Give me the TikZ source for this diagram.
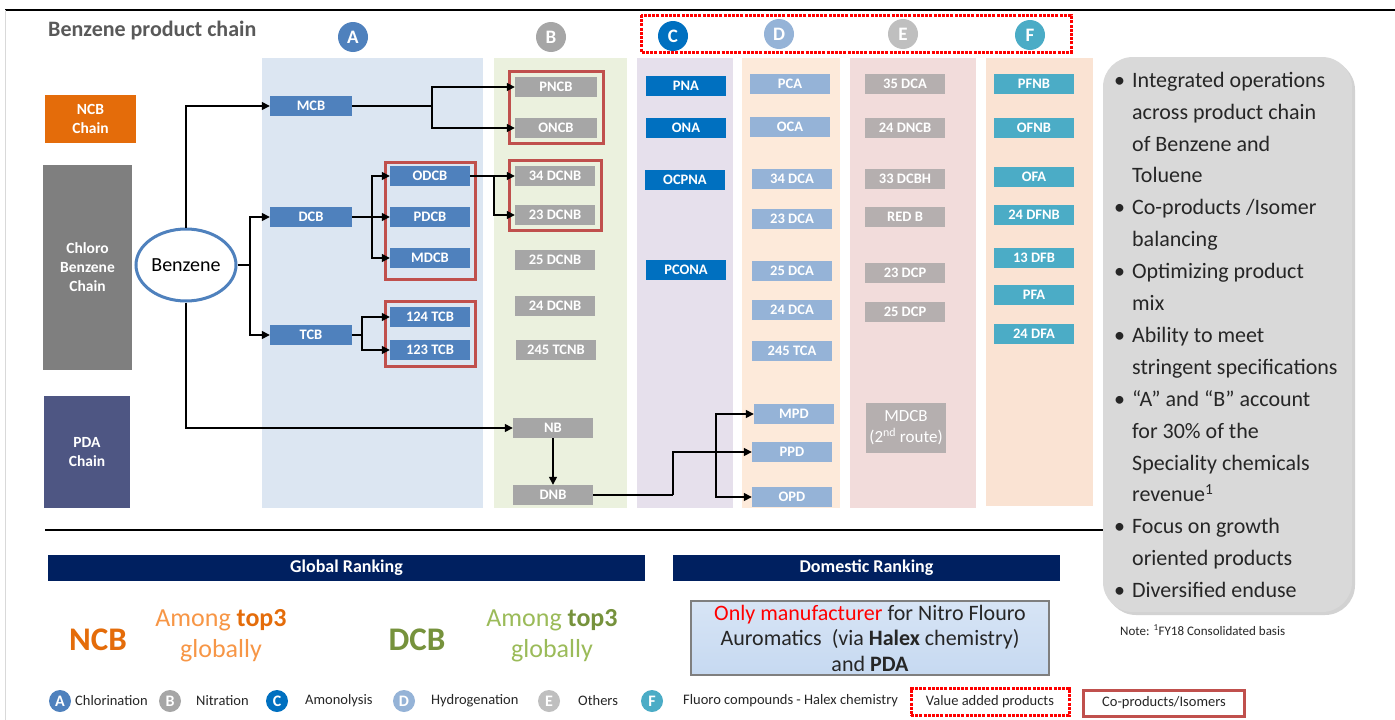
\documentclass[tikz,border=0pt]{standalone}
\usepackage{fontspec}
\setmainfont{Carlito}
\usetikzlibrary{arrows.meta,positioning,shapes.geometric,shadows}

\definecolor{chlorblue}{HTML}{4F81BD}
\definecolor{nitrogray}{HTML}{A6A6A6}
\definecolor{aminoblue}{HTML}{0070C0}
\definecolor{hydroblue}{HTML}{95B3D7}
\definecolor{othergray}{HTML}{B5AFAF}
\definecolor{othercirc}{HTML}{BFBFBF}
\definecolor{fluoroteal}{HTML}{4BACC6}
\definecolor{bgA}{HTML}{DCE6F2}
\definecolor{bgB}{HTML}{EBF1DE}
\definecolor{bgC}{HTML}{E6E0EC}
\definecolor{bgD}{HTML}{FDEADA}
\definecolor{bgE}{HTML}{F2DCDB}
\definecolor{bgF}{HTML}{FAE3D3}
\definecolor{ncborange}{HTML}{E46C0A}
\definecolor{lightorange}{HTML}{F79646}
\definecolor{dcbgreen}{HTML}{76923C}
\definecolor{lightgreen}{HTML}{9BBB59}
\definecolor{chaingray}{HTML}{7F7F7F}
\definecolor{pdaslate}{HTML}{4E5683}
\definecolor{navy}{HTML}{002060}
\definecolor{isored}{HTML}{C0504D}
\definecolor{notegray}{HTML}{D9D9D9}
\definecolor{titlegray}{HTML}{595959}
\definecolor{darktext}{HTML}{262626}
\definecolor{domblue}{HTML}{C6D9F1}

\begin{document}
\begin{tikzpicture}[x=1pt,y=-1pt]
\tikzset{
  prodbox/.style={rectangle,minimum width=80pt,minimum height=20pt,inner sep=0pt,text=white,font=\fontsize{14.5}{16}\selectfont\bfseries},
  abox/.style={prodbox,fill=chlorblue},
  bbox/.style={prodbox,fill=nitrogray},
  cbox/.style={prodbox,fill=aminoblue},
  dbox/.style={prodbox,fill=hydroblue},
  ebox/.style={prodbox,fill=othergray},
  fbox/.style={prodbox,fill=fluoroteal},
  chainbox/.style={rectangle,inner sep=0pt,text=white,align=center,font=\fontsize{15.5}{19}\selectfont\bfseries},
  lettercircle/.style={circle,inner sep=0pt,minimum size=30pt,text=white,font=\fontsize{19}{20}\selectfont\bfseries},
  legcircle/.style={circle,inner sep=0pt,minimum size=22pt,text=white,font=\fontsize{16}{17}\selectfont\bfseries},
  legtext/.style={anchor=west,inner sep=0pt,text=darktext,font=\fontsize{14.5}{16}\selectfont},
  banner/.style={rectangle,fill=navy,text=white,inner sep=0pt,font=\fontsize{18}{20}\selectfont\bfseries},
  link/.style={draw=black,line width=1.4pt},
  arr/.style={link,-{Triangle[length=8pt,width=8pt]}},
  isobox/.style={draw=isored,line width=3pt},
  valuebox/.style={draw=red,line width=3pt,dash pattern=on 3pt off 1.2pt}
}
\useasboundingbox (0,0) rectangle (1395,720);
\fill[white] (0,0) rectangle (1395,720);
% frame
\draw[line width=2.5pt] (5,10) -- (1395,10);
\draw[notegray,line width=0.8pt] (5,10) -- (5,720);
\node[anchor=west,inner sep=0pt,text=titlegray,font=\fontsize{22}{24}\selectfont\bfseries] (n_title) at (48,31) {Benzene product chain};

% columns
\fill[bgA] (262,58) rectangle (483,508);
\fill[bgB] (494,58) rectangle (627,508);
\fill[bgC] (637,58) rectangle (733,508);
\fill[bgD] (742,58) rectangle (840,508);
\fill[bgE] (850,58) rectangle (976,508);
\fill[bgF] (986,58) rectangle (1093,506);

% column headers
\node[lettercircle,fill=chlorblue] (n_hA) at (353,37) {A};
\node[lettercircle,fill=nitrogray] (n_hB) at (551,37) {B};
\node[lettercircle,fill=aminoblue] (n_hC) at (673,36) {C};
\node[lettercircle,fill=hydroblue] (n_hD) at (779,34) {D};
\node[lettercircle,fill=othercirc] (n_hE) at (903,34) {E};
\node[lettercircle,fill=fluoroteal] (n_hF) at (1030,35) {F};
\draw[valuebox] (641,15) rectangle (1071,52);

% chains
\node[chainbox,fill=ncborange,minimum width=91pt,minimum height=48pt] (n_NCB) at (90.5,119) {NCB\\Chain};
\node[chainbox,fill=chaingray,minimum width=89pt,minimum height=205pt] (n_CBC) at (87.5,267.5) {Chloro\\Benzene\\Chain};
\node[chainbox,fill=pdaslate,minimum width=86pt,minimum height=112pt] (n_PDA) at (87,452) {PDA\\Chain};
\node[ellipse,draw=chlorblue,line width=3pt,fill=white,minimum width=100pt,minimum height=72pt,inner sep=0pt,font=\fontsize{20}{22}\selectfont] (n_Benz) at (186,265) {Benzene};

% A: chlorination
\node[abox,minimum width=82pt] (n_MCB) at (311,106) {MCB};
\node[abox,minimum width=82pt] (n_DCB) at (311,217) {DCB};
\node[abox,minimum width=82pt] (n_TCB) at (311,335) {TCB};
\node[abox] (n_ODCB) at (430,176) {ODCB};
\node[abox] (n_PDCB) at (430,217) {PDCB};
\node[abox] (n_MDCB) at (430,258) {MDCB};
\node[abox] (n_TCB124) at (430,317) {124 TCB};
\node[abox] (n_TCB123) at (430,350) {123 TCB};
\draw[isobox] (385,162) rectangle (475,279);
\draw[isobox] (385,301) rectangle (475,366);

% B: nitration
\node[bbox,minimum width=82pt] (n_PNCB) at (556,87) {PNCB};
\node[bbox,minimum width=82pt] (n_ONCB) at (556,128) {ONCB};
\node[bbox] (n_DCNB34) at (555,176) {34 DCNB};
\node[bbox] (n_DCNB23) at (555,215) {23 DCNB};
\node[bbox] (n_DCNB25) at (555,260) {25 DCNB};
\node[bbox] (n_DCNB24) at (555,306) {24 DCNB};
\node[bbox] (n_TCNB245) at (556,350) {245 TCNB};
\node[bbox] (n_NB) at (553,428) {NB};
\node[bbox] (n_DNB) at (553,495) {DNB};
\draw[isobox] (509,71) rectangle (603,143);
\draw[isobox] (509,160) rectangle (601,230);

% C: amonolysis
\node[cbox] (n_PNA) at (686,86) {PNA};
\node[cbox] (n_ONA) at (686,128) {ONA};
\node[cbox] (n_OCPNA) at (685,180) {OCPNA};
\node[cbox] (n_PCONA) at (686,270) {PCONA};

% D: hydrogenation
\node[dbox] (n_PCA) at (790,84) {PCA};
\node[dbox] (n_OCA) at (790,127) {OCA};
\node[dbox] (n_DCA34) at (792,179) {34 DCA};
\node[dbox] (n_DCA23) at (792,219) {23 DCA};
\node[dbox] (n_DCA25) at (792,271) {25 DCA};
\node[dbox] (n_DCA24) at (792,310) {24 DCA};
\node[dbox] (n_TCA245) at (792,351) {245 TCA};
\node[dbox] (n_MPD) at (794,414) {MPD};
\node[dbox] (n_PPD) at (792,452) {PPD};
\node[dbox] (n_OPD) at (792,497) {OPD};

% E: others
\node[ebox] (n_DCA35) at (905,84) {35 DCA};
\node[ebox] (n_DNCB24) at (905,128) {24 DNCB};
\node[ebox] (n_DCBH33) at (905,179) {33 DCBH};
\node[ebox] (n_REDB) at (905,217) {RED B};
\node[ebox] (n_DCP23) at (905,273) {23 DCP};
\node[ebox] (n_DCP25) at (905,312) {25 DCP};
\node[ebox,minimum height=50pt,align=center,font=\fontsize{17}{21}\selectfont] (n_MDCB2) at (906,428) {MDCB\\(2\textsuperscript{nd} route)};

% F: fluoro
\node[fbox] (n_PFNB) at (1034,84) {PFNB};
\node[fbox] (n_OFNB) at (1034,128) {OFNB};
\node[fbox] (n_OFA) at (1034,177) {OFA};
\node[fbox] (n_DFNB24) at (1034,215) {24 DFNB};
\node[fbox] (n_DFB13) at (1034,258) {13 DFB};
\node[fbox] (n_PFA) at (1034,295) {PFA};
\node[fbox] (n_DFA24) at (1034,334) {24 DFA};

% connectors
\coordinate (j_benz) at (250,265);
\coordinate (j_mcb) at (432,106);
\coordinate (j_dcb) at (372,217);
\coordinate (j_tcb) at (362,335);
\coordinate (j_odcb) at (494,176);
\coordinate (j_dnb) at (673,495);
\coordinate (j_pd) at (716,452);
\draw[arr] (n_Benz.north) |- (n_MCB);
\draw[link] (n_Benz.east) -- (j_benz);
\draw[arr] (j_benz) |- (n_DCB);
\draw[arr] (j_benz) |- (n_TCB);
\draw[arr] (n_Benz.south) |- (n_NB);
\draw[link] (n_MCB) -- (j_mcb);
\draw[arr] (j_mcb) |- (n_PNCB);
\draw[arr] (j_mcb) |- (n_ONCB);
\draw[link] (n_DCB) -- (j_dcb);
\draw[arr] (j_dcb) |- (n_ODCB);
\draw[arr] (j_dcb) -- (n_PDCB);
\draw[arr] (j_dcb) |- (n_MDCB);
\draw[link] (n_TCB) -- (j_tcb);
\draw[arr] (j_tcb) |- (n_TCB124);
\draw[arr] (j_tcb) |- (n_TCB123);
\draw[arr] (n_ODCB) -- (n_DCNB34);
\draw[arr] (j_odcb) |- (n_DCNB23);
\draw[arr] (n_NB) -- (n_DNB);
\draw[link] (n_DNB) -- (j_dnb);
\draw[arr] (j_dnb) |- (n_PPD);
\draw[arr] (j_pd) |- (n_MPD);
\draw[arr] (j_pd) |- (n_OPD);

% notes
\draw[line width=2pt] (45,530) -- (1105,530);
\node[rectangle,rounded corners=30pt,fill=notegray,minimum width=249pt,minimum height=555pt,drop shadow={opacity=0.35,shadow xshift=3pt,shadow yshift=-3pt}] (n_notes) at (1227.5,334.5) {};
\node[anchor=north west,inner sep=0pt,text=darktext,font=\fontsize{22}{31.9}\selectfont] (n_notetext) at (1114,64.7) {%
\begin{tabular}{@{}l@{\hspace{7pt}}l@{}}
\textbullet & Integrated operations\\
 & across product chain\\
 & of Benzene and\\
 & Toluene\\
\textbullet & Co-products /Isomer\\
 & balancing\\
\textbullet & Optimizing product\\
 & mix\\
\textbullet & Ability to meet\\
 & stringent specifications\\
\textbullet & “A” and “B” account\\
 & for 30\% of the\\
 & Speciality chemicals\\
 & revenue\textsuperscript{1}\\
\textbullet & Focus on growth\\
 & oriented products\\
\textbullet & Diversified enduse
\end{tabular}};
\node[anchor=west,inner sep=0pt,text=darktext,font=\fontsize{13}{15}\selectfont] (n_note) at (1120,630) {Note: \textsuperscript{1}FY18 Consolidated basis};

% rankings
\node[banner,minimum width=597pt,minimum height=26pt] (n_global) at (346.5,568) {Global Ranking};
\node[banner,minimum width=387pt,minimum height=26pt] (n_domestic) at (866.5,568) {Domestic Ranking};
\node[text=ncborange,font=\fontsize{33}{35}\selectfont\bfseries] (n_rNCB) at (98,640) {NCB};
\node[align=center,text=lightorange,font=\fontsize{26}{31}\selectfont] (n_rNCBt) at (221,636) {Among \textbf{\color{ncborange}top3}\\globally};
\node[text=dcbgreen,font=\fontsize{33}{35}\selectfont\bfseries] (n_rDCB) at (417,640) {DCB};
\node[align=center,text=lightgreen,font=\fontsize{26}{31}\selectfont] (n_rDCBt) at (552,636) {Among \textbf{\color{dcbgreen}top3}\\globally};
\node[rectangle,draw=chaingray,line width=2.5pt,top color=domblue!70,bottom color=domblue,minimum width=358pt,minimum height=74pt,align=center,inner sep=0pt,text=darktext,font=\fontsize{22}{25.5}\selectfont] (n_only) at (870,638) {\textcolor{red}{Only manufacturer} for Nitro Flouro\\Auromatics\ \ (via \textbf{Halex} chemistry)\\and \textbf{PDA}};

% legend
\node[legcircle,fill=chlorblue] (n_lA) at (60,701) {A};
\node[legtext] (n_lAt) at (75,701) {Chlorination};
\node[legcircle,fill=nitrogray] (n_lB) at (170,701) {B};
\node[legtext] (n_lBt) at (196,701) {Nitration};
\node[legcircle,fill=aminoblue] (n_lC) at (277,701) {C};
\node[legtext] (n_lCt) at (305,701) {Amonolysis};
\node[legcircle,fill=hydroblue] (n_lD) at (404,701) {D};
\node[legtext] (n_lDt) at (431,701) {Hydrogenation};
\node[legcircle,fill=othercirc] (n_lE) at (549,701) {E};
\node[legtext] (n_lEt) at (578,701) {Others};
\node[legcircle,fill=fluoroteal] (n_lF) at (652,701) {F};
\node[legtext] (n_lFt) at (683,701) {Fluoro compounds - Halex chemistry};
\node[valuebox,rectangle,minimum width=158pt,minimum height=27pt,inner sep=0pt,text=darktext,font=\fontsize{14.5}{16}\selectfont] (n_lValue) at (990,702) {Value added products};
\node[isobox,rectangle,minimum width=161pt,minimum height=26pt,inner sep=0pt,text=darktext,font=\fontsize{14.5}{16}\selectfont] (n_lIso) at (1164,703) {Co-products/Isomers};
\end{tikzpicture}
\end{document}
